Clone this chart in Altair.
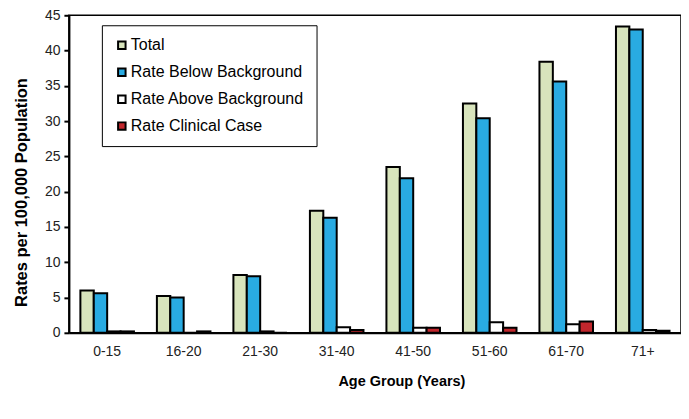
import altair as alt
import pandas as pd

ages = ["0-15", "16-20", "21-30", "31-40", "41-50", "51-60", "61-70", "71+"]
series = ["Total", "Rate Below Background", "Rate Above Background", "Rate Clinical Case"]
total = [6.0, 5.2, 8.2, 17.3, 23.5, 32.5, 38.4, 43.4]
below = [5.6, 5.0, 8.0, 16.3, 21.9, 30.4, 35.6, 43.0]
above = [0.2, 0.0, 0.2, 0.8, 0.7, 1.5, 1.2, 0.4]
clinical = [0.2, 0.2, 0.0, 0.4, 0.7, 0.7, 1.6, 0.3]
colors = ["#d8e4bc", "#29abe2", "#ffffff", "#c1272d"]

rows = []
for s, vals in zip(series, [total, below, above, clinical]):
    for a, v in zip(ages, vals):
        rows.append({"age": a, "series": s, "value": v})
df = pd.DataFrame(rows)

FONT = "Liberation Sans, Arial"

chart = alt.Chart(df).mark_bar(stroke="black", strokeWidth=2).encode(
    x=alt.X("age:N", sort=ages, title="Age Group (Years)",
            scale=alt.Scale(paddingInner=0.3, paddingOuter=0.15),
            axis=alt.Axis(labelAngle=0, ticks=False, labelPadding=12, titlePadding=16,
                          titleX=333,
                          domainColor="black", domainWidth=2,
                          labelFont=FONT, labelFontSize=14, labelColor="#222",
                          titleFont=FONT, titleFontSize=14.5, titleFontWeight="bold")),
    xOffset=alt.XOffset("series:N", sort=series),
    y=alt.Y("value:Q", title="Rates per 100,000 Population",
            scale=alt.Scale(domain=[0, 45], nice=False),
            axis=alt.Axis(values=list(range(0, 46, 5)), grid=False,
                          domainColor="black", domainWidth=2,
                          tickColor="black", tickWidth=2, tickSize=5, labelPadding=4,
                          titlePadding=15, titleY=177,
                          labelFont=FONT, labelFontSize=14, labelColor="#222",
                          titleFont=FONT, titleFontSize=16.5, titleFontWeight="bold")),
    color=alt.Color("series:N", sort=series,
                    scale=alt.Scale(domain=series, range=colors),
                    legend=alt.Legend(title=None, orient="none", legendX=33, legendY=10,
                                      symbolType="square", symbolSize=56,
                                      symbolStrokeColor="black", symbolStrokeWidth=2,
                                      labelFont=FONT, labelFontSize=16, labelColor="black",
                                      labelOffset=1,
                                      rowPadding=11, padding=12,
                                      strokeColor="black", fillColor="white",
                                      labelLimit=300)),
).properties(
    width=613, height=318,
    padding={"left": 5, "top": 0, "right": 0, "bottom": 5},
).configure_view(stroke="black", strokeWidth=1.5)

chart.save("out.html", embed_options={"renderer": "svg", "actions": False})
